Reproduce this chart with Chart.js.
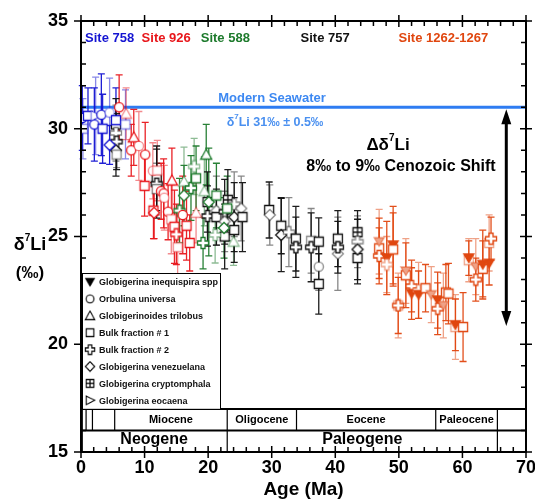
<!DOCTYPE html>
<html>
<head>
<meta charset="utf-8">
<script src="https://cdn.jsdelivr.net/npm/chart.js@4.4.1/dist/chart.umd.min.js"></script>
<style>
  html, body { margin: 0; padding: 0; background: #fff; }
  #wrap { width: 535px; height: 504px; }
</style>
</head>
<body>
<div id="wrap"><canvas id="chart" width="535" height="504"></canvas></div>
<script>
// Li isotopes in forams through the Cenozoic
// each row: [age Ma, d7Li permil, error, symbol]
const site758 = [
  [0.2, 30.5, 1.5, 'circ'], [0.3, 30.0, 1.4, 'sq'], [1.1, 30.6, 1.3, 'sq'],
  [2.1, 30.2, 1.7, 'circ'], [2.3, 30.6, 1.8, 'triR'], [3.2, 30.65, 1.9, 'circ'],
  [3.4, 30.0, 1.6, 'sq'], [4.5, 30.75, 1.6, 'circ'], [4.5, 29.25, 0.9, 'dia'],
  [5.5, 30.4, 1.5, 'sq'], [7.0, 30.2, 1.6, 'sq']
];
const site926 = [
  [6.0, 31.0, 1.5, 'circ'], [7.1, 30.7, 1.2, 'tri'], [7.9, 29.0, 1.2, 'circ'],
  [8.3, 29.6, 1.3, 'tri'], [9.1, 29.2, 1.6, 'circ'], [10.1, 28.8, 1.5, 'circ'],
  [10.0, 27.35, 1.4, 'sq'], [11.3, 28.05, 1.3, 'circ'], [11.4, 26.2, 1.3, 'sq'],
  [11.5, 26.1, 1.2, 'dia'], [12.0, 28.06, 1.4, 'sq'], [12.6, 27.1, 1.3, 'circ'],
  [13.0, 27.0, 1.6, 'circ'], [13.1, 26.8, 1.5, 'circ'], [13.7, 26.15, 1.3, 'circ'],
  [14.3, 27.6, 1.5, 'tri'], [14.2, 25.8, 1.6, 'sq'], [14.7, 25.45, 1.7, 'sq'],
  [15.0, 25.1, 1.4, 'plus'], [15.2, 24.5, 1.5, 'sq'], [16.6, 25.5, 1.6, 'sq'],
  [17.1, 24.7, 1.3, 'sq'], [18.1, 26.1, 1.4, 'tri'], [16.0, 26.0, 1.8, 'circ']
];
const site588 = [
  [15.5, 26.2, 1.5, 'plus'], [16.2, 27.55, 1.6, 'tri'], [16.2, 26.9, 1.4, 'dia'],
  [17.3, 27.25, 1.5, 'plus'], [17.8, 28.25, 1.3, 'plus'], [18.1, 27.7, 1.5, 'sq'],
  [19.2, 24.7, 1.2, 'plus'], [19.4, 27.1, 1.6, 'tri'], [19.7, 28.8, 1.4, 'tri'],
  [20.1, 26.6, 2.5, 'dia'], [21.1, 25.07, 1.3, 'plus'], [21.3, 26.9, 1.5, 'sq'],
  [22.5, 25.4, 1.4, 'dia'], [24.0, 24.76, 1.1, 'tri'], [23.0, 26.3, 1.5, 'sq']
];
const site757 = [
  [5.5, 30.2, 1.2, 'sq'], [5.5, 29.8, 1.3, 'plus'], [5.6, 29.4, 1.3, 'plus'],
  [5.5, 29.0, 1.2, 'dia'], [5.6, 28.8, 0.6, 'sq'], [11.9, 27.7, 1.5, 'sq'],
  [11.9, 27.45, 1.6, 'plus'], [11.9, 27.2, 1.2, 'sq'], [19.9, 26.6, 1.4, 'sq'],
  [19.9, 25.95, 1.4, 'plus'], [21.3, 26.2, 1.6, 'dia'], [21.3, 25.9, 1.3, 'sq'],
  [22.6, 26.15, 1.5, 'plus'], [22.6, 25.7, 1.4, 'dia'], [22.6, 25.0, 1.5, 'sq'],
  [23.1, 26.7, 1.4, 'sqx'], [24.1, 26.5, 1.5, 'plus'], [24.1, 25.9, 1.6, 'dia'],
  [24.1, 25.3, 1.5, 'sq'], [25.2, 26.3, 1.5, 'dia'], [25.4, 25.9, 1.6, 'sq'],
  [29.6, 26.23, 1.3, 'sq'], [29.7, 26.0, 1.4, 'dia'], [31.5, 25.5, 1.3, 'sq'],
  [31.5, 25.07, 1.7, 'dia'], [32.7, 25.2, 1.6, 'plus'], [33.8, 24.9, 1.5, 'sq'],
  [33.8, 24.5, 1.4, 'plus'], [36.2, 24.8, 1.5, 'sq'], [36.2, 24.5, 1.6, 'plus'],
  [37.4, 24.76, 1.1, 'sq'], [37.4, 23.6, 1.1, 'circ'], [37.4, 22.8, 1.4, 'sq'],
  [40.4, 24.9, 1.3, 'sq'], [40.4, 24.2, 1.7, 'dia'], [40.4, 24.5, 1.2, 'plus'],
  [43.5, 25.2, 1.0, 'sqx'], [43.5, 24.76, 1.2, 'plus'], [43.5, 24.0, 1.2, 'sq'],
  [43.5, 24.4, 1.4, 'dia']
];
const site1262 = [
  [46.9, 24.45, 1.4, 'sq'], [46.9, 24.76, 1.5, 'inv'], [46.9, 24.1, 1.3, 'plus'],
  [48.1, 24.0, 1.7, 'inv'], [48.1, 23.7, 1.3, 'plus'], [49.1, 24.6, 1.8, 'inv'],
  [49.1, 24.4, 1.7, 'sq'], [49.9, 21.8, 1.5, 'sq'], [49.9, 21.8, 1.3, 'plus'],
  [51.1, 23.2, 1.5, 'sq'], [51.1, 23.4, 1.5, 'inv'], [52.0, 22.7, 1.2, 'plus'],
  [52.0, 22.35, 1.2, 'inv'], [53.1, 22.5, 1.3, 'plus'], [53.1, 22.3, 1.1, 'inv'],
  [54.2, 22.6, 1.1, 'sq'], [55.1, 22.3, 1.3, 'inv'], [56.1, 22.05, 1.3, 'inv'],
  [56.1, 21.65, 1.2, 'plus'], [57.0, 21.8, 1.5, 'inv'], [57.4, 22.4, 1.3, 'sq'],
  [57.8, 22.35, 1.4, 'sq'], [58.9, 20.8, 1.5, 'sq'], [58.9, 20.9, 1.2, 'inv'],
  [60.1, 20.8, 1.6, 'sq'], [61.0, 23.9, 1.0, 'sq'], [61.0, 24.0, 0.8, 'inv'],
  [62.1, 23.0, 1.0, 'plus'], [62.1, 23.6, 1.3, 'inv'], [63.2, 23.5, 1.3, 'sq'],
  [63.2, 23.7, 1.6, 'inv'], [64.2, 24.7, 1.3, 'sq'], [64.5, 24.9, 1.0, 'plus'],
  [64.2, 23.75, 1.0, 'inv']
];

const siteNames = ['Site 758', 'Site 926', 'Site 588', 'Site 757', 'Site 1262-1267'];
const siteLabelAges = [4.5, 13.4, 22.7, 38.4, 57.0];
const seawaterLi = 31;

const legendNames = ['Globigerina inequispira spp', 'Orbulina universa', 'Globigerinoides trilobus',
  'Bulk fraction # 1', 'Bulk fraction # 2', 'Globigerina venezuelana',
  'Globigerina cryptomphala', 'Globigerina eocaena'];
const legendSyms = ['inv', 'circ', 'tri', 'sq', 'plus', 'dia', 'sqx', 'triR'];

const epochBounds = [0.2, 0.8, 1.8, 5.3, 23.0, 33.9, 55.8, 65.5];
const epochNames = ['Miocene', 'Oligocene', 'Eocene', 'Paleocene'];
const epochSpans = [[5.3, 23.0], [23.0, 33.9], [33.9, 55.8], [55.8, 65.5]];
const periodBounds = [0.2, 23.0, 65.5];
const periodNames = ['Neogene', 'Paleogene'];

const xTicks = [0, 10, 20, 30, 40, 50, 60, 70];
const yTicks = [15, 20, 25, 30, 35];

const FONT = "Arial, 'Liberation Sans', Helvetica, sans-serif";
const siteColors = ['#1414D2', '#E8161B', '#1D7A2C', '#111111', '#E0460F'];
const siteData = [site758, site926, site588, site757, site1262];

// --- marcadores propios (canvas) ---
const markerCache = {};
function makeMarker(kind, color, alpha) {
  const key = kind + '|' + color + '|' + alpha;
  if (markerCache[key]) return markerCache[key];
  const s = 14, m = 7;
  const c = document.createElement('canvas');
  c.width = s; c.height = s;
  const g = c.getContext('2d');
  g.lineWidth = 1.3;
  g.beginPath();
  switch (kind) {
    case 'circ': g.arc(m, m, 4.6, 0, Math.PI * 2); break;
    case 'sq': case 'sqx': g.rect(2.5, 2.5, 9, 9); break;
    case 'tri': g.moveTo(m, 1.5); g.lineTo(12.5, 11.5); g.lineTo(1.5, 11.5); g.closePath(); break;
    case 'inv': g.moveTo(2, 3); g.lineTo(12, 3); g.lineTo(m, 11.5); g.closePath(); break;
    case 'triR': g.moveTo(2.5, 2); g.lineTo(12.5, m); g.lineTo(2.5, 12); g.closePath(); break;
    case 'dia': g.moveTo(m, 1.5); g.lineTo(12.5, m); g.lineTo(m, 12.5); g.lineTo(1.5, m); g.closePath(); break;
    case 'plus': {
      const a = 2, b = 5.5;
      g.moveTo(m - a, m - b); g.lineTo(m + a, m - b); g.lineTo(m + a, m - a); g.lineTo(m + b, m - a);
      g.lineTo(m + b, m + a); g.lineTo(m + a, m + a); g.lineTo(m + a, m + b); g.lineTo(m - a, m + b);
      g.lineTo(m - a, m + a); g.lineTo(m - b, m + a); g.lineTo(m - b, m - a); g.lineTo(m - a, m - a);
      g.closePath();
      break;
    }
  }
  g.fillStyle = '#fff';
  g.fill();
  g.globalAlpha = alpha;
  g.strokeStyle = color;
  if (kind === 'inv') { g.fillStyle = color; g.fill(); }
  g.stroke();
  if (kind === 'sqx') {
    g.beginPath();
    g.moveTo(m, 2.5); g.lineTo(m, 11.5); g.moveTo(2.5, m); g.lineTo(11.5, m);
    g.stroke();
  }
  markerCache[key] = c;
  return c;
}

// puntos claros y oscuros alternados como en la figura
const pointAlpha = i => (i % 3 === 1 ? 0.5 : 1);

const datasets = siteData.map((rows, k) => ({
  label: siteNames[k],
  data: rows.map(r => ({ x: r[0], y: r[1] })),
  errs: rows.map(r => r[2]),
  pointStyle: ctx => makeMarker(rows[ctx.dataIndex][3], siteColors[k], pointAlpha(ctx.dataIndex)),
  pointRadius: 5,
  showLine: false
}));

function hexA(hex, a) {
  const n = parseInt(hex.slice(1), 16);
  return `rgba(${n >> 16},${(n >> 8) & 255},${n & 255},${a})`;
}

// texto con superindice
function supText(ctx, parts, cx, cy) {
  let w = 0;
  parts.forEach(p => { ctx.font = `bold ${p[1]}px ${FONT}`; w += ctx.measureText(p[0]).width; });
  let x = cx - w / 2;
  ctx.textAlign = 'left';
  ctx.textBaseline = 'middle';
  parts.forEach(p => {
    ctx.font = `bold ${p[1]}px ${FONT}`;
    ctx.fillText(p[0], x, cy + (p[2] || 0));
    x += ctx.measureText(p[0]).width;
  });
}

const decorPlugin = {
  id: 'decor',
  beforeDatasetsDraw(chart) {
    const { ctx, chartArea: a, scales: { x, y } } = chart;
    ctx.save();
    // linea de agua de mar moderna
    ctx.strokeStyle = '#2E7CF2';
    ctx.lineWidth = 3;
    ctx.beginPath();
    ctx.moveTo(a.left, y.getPixelForValue(seawaterLi));
    ctx.lineTo(a.right, y.getPixelForValue(seawaterLi));
    ctx.stroke();

    // barras de error
    ctx.lineWidth = 1.3;
    chart.data.datasets.forEach((ds, k) => {
      ds.data.forEach((p, i) => {
        const px = x.getPixelForValue(p.x);
        const top = y.getPixelForValue(p.y + ds.errs[i]);
        const bot = y.getPixelForValue(p.y - ds.errs[i]);
        ctx.strokeStyle = hexA(siteColors[k], pointAlpha(i) === 1 ? 0.95 : 0.5);
        ctx.beginPath();
        ctx.moveTo(px, top); ctx.lineTo(px, bot);
        ctx.moveTo(px - 3.5, top); ctx.lineTo(px + 3.5, top);
        ctx.moveTo(px - 3.5, bot); ctx.lineTo(px + 3.5, bot);
        ctx.stroke();
      });
    });
    ctx.restore();
  },
  afterDatasetsDraw(chart) {
    const { ctx, chartArea: a, scales: { x, y } } = chart;
    ctx.save();
    ctx.fillStyle = '#000';
    ctx.strokeStyle = '#000';

    // escala de tiempo geologico
    const y17 = y.getPixelForValue(17), y16 = y.getPixelForValue(16), y15 = y.getPixelForValue(15);
    ctx.fillStyle = '#fff';
    ctx.fillRect(a.left, y17, a.right - a.left, y15 - y17);
    ctx.lineWidth = 2;
    ctx.beginPath();
    ctx.moveTo(a.left, y17); ctx.lineTo(a.right, y17);
    ctx.moveTo(a.left, y16); ctx.lineTo(a.right, y16);
    ctx.stroke();
    ctx.lineWidth = 1.2;
    ctx.beginPath();
    epochBounds.forEach(b => { const px = x.getPixelForValue(b); ctx.moveTo(px, y17); ctx.lineTo(px, y16); });
    periodBounds.forEach(b => { const px = x.getPixelForValue(b); ctx.moveTo(px, y16); ctx.lineTo(px, y15); });
    ctx.stroke();
    ctx.fillStyle = '#000';
    ctx.textAlign = 'center';
    ctx.textBaseline = 'middle';
    ctx.font = `bold 11px ${FONT}`;
    epochNames.forEach((n, i) => {
      const cx = (x.getPixelForValue(epochSpans[i][0]) + x.getPixelForValue(epochSpans[i][1])) / 2;
      ctx.fillText(n, cx, (y17 + y16) / 2);
    });
    ctx.font = `bold 16px ${FONT}`;
    const pc = [[0, 23.0], [23.0, 65.5]];
    periodNames.forEach((n, i) => {
      const cx = (x.getPixelForValue(pc[i][0]) + x.getPixelForValue(pc[i][1])) / 2;
      ctx.fillText(n, cx, (y16 + y15) / 2 - 2);
    });

    // marco y marcas de los ejes
    ctx.lineWidth = 2;
    ctx.strokeRect(a.left, a.top, a.right - a.left, a.bottom - a.top);
    ctx.lineWidth = 1.5;
    ctx.beginPath();
    for (let v = 0; v <= 70; v += 2) {
      const px = x.getPixelForValue(v);
      const major = v % 10 === 0;
      if (major) {
        ctx.moveTo(px, a.bottom - 6); ctx.lineTo(px, a.bottom + 6);
        ctx.moveTo(px, a.top - 6); ctx.lineTo(px, a.top + 6);
      } else {
        ctx.moveTo(px, a.bottom - 5); ctx.lineTo(px, a.bottom);
        ctx.moveTo(px, a.top); ctx.lineTo(px, a.top + 5);
      }
    }
    for (let v = 15; v <= 35; v += 1) {
      const py = y.getPixelForValue(v);
      if (v % 5 === 0) {
        ctx.moveTo(a.left - 7, py); ctx.lineTo(a.left + 6, py);
        ctx.moveTo(a.right - 6, py); ctx.lineTo(a.right + 6, py);
      } else {
        ctx.moveTo(a.left, py); ctx.lineTo(a.left + 5, py);
        ctx.moveTo(a.right - 5, py); ctx.lineTo(a.right, py);
      }
    }
    ctx.stroke();

    // etiquetas de sitios
    ctx.font = `bold 13px ${FONT}`;
    ctx.textBaseline = 'middle';
    siteNames.forEach((n, k) => {
      ctx.fillStyle = siteColors[k];
      ctx.fillText(n, x.getPixelForValue(siteLabelAges[k]), 38);
    });

    // agua de mar
    const ySea = y.getPixelForValue(seawaterLi);
    ctx.fillStyle = '#3C88F2';
    ctx.font = `bold 13px ${FONT}`;
    ctx.fillText('Modern Seawater', 272, ySea - 9);
    ctx.fillStyle = '#4A90F0';
    supText(ctx, [['δ', 12.5], ['7', 8, -5], ['Li 31‰ ± 0.5‰', 12.5]], 275, ySea + 15);

    // flecha doble
    const ax = x.getPixelForValue(66.9);
    const aTop = y.getPixelForValue(30.9), aBot = y.getPixelForValue(20.85);
    ctx.fillStyle = '#000';
    ctx.strokeStyle = '#000';
    ctx.lineWidth = 3;
    ctx.beginPath();
    ctx.moveTo(ax, aTop + 10); ctx.lineTo(ax, aBot - 10);
    ctx.stroke();
    ctx.beginPath();
    ctx.moveTo(ax, aTop); ctx.lineTo(ax - 5, aTop + 15); ctx.lineTo(ax + 5, aTop + 15); ctx.closePath();
    ctx.moveTo(ax, aBot); ctx.lineTo(ax - 5, aBot - 15); ctx.lineTo(ax + 5, aBot - 15); ctx.closePath();
    ctx.fill();

    // texto del cambio cenozoico
    supText(ctx, [['Δδ', 17], ['7', 10, -7], ['Li', 17]], 388, 145);
    ctx.textAlign = 'center';
    ctx.font = `bold 16px ${FONT}`;
    ctx.fillText('8‰ to 9‰ Cenozoic Shift', 401, 167);

    // leyenda
    const lx = a.left + 1, ly = 273, lw = 138, lh = y17 - 273;
    ctx.fillStyle = '#fff';
    ctx.fillRect(lx, ly, lw, lh);
    ctx.strokeStyle = '#000';
    ctx.lineWidth = 1;
    ctx.strokeRect(lx + 0.5, ly + 0.5, lw, lh);
    ctx.save();
    ctx.beginPath();
    ctx.rect(lx, ly, lw, lh);
    ctx.clip();
    ctx.font = `bold 9px ${FONT}`;
    ctx.textAlign = 'left';
    ctx.textBaseline = 'middle';
    ctx.fillStyle = '#111';
    legendNames.forEach((n, i) => {
      const ry = 283 + i * 16.9;
      const mk = makeMarker(legendSyms[i], '#000', 1);
      ctx.drawImage(mk, lx + 2, ry - 7, 12, 12);
      ctx.fillText(n, lx + 17, ry);
    });
    ctx.restore();

    // titulos de ejes
    ctx.fillStyle = '#000';
    supText(ctx, [['δ', 18], ['7', 10, -7], ['Li', 18]], 30, 245);
    ctx.textAlign = 'center';
    ctx.font = `bold 17px ${FONT}`;
    ctx.fillText('(‰)', 30, 273);
    ctx.font = `bold 19px ${FONT}`;
    ctx.fillText('Age (Ma)', (a.left + a.right) / 2, 490);
    ctx.restore();
  }
};

new Chart(document.getElementById('chart'), {
  type: 'scatter',
  data: { datasets },
  options: {
    responsive: false,
    animation: false,
    devicePixelRatio: 1,
    layout: { padding: { top: 21, right: 9, left: 0, bottom: 0 } },
    plugins: { legend: { display: false }, tooltip: { enabled: false } },
    scales: {
      x: {
        type: 'linear', min: 0, max: 70,
        afterBuildTicks: s => { s.ticks = xTicks.map(v => ({ value: v })); },
        afterFit: s => { s.height = 52; s.paddingLeft = 0; s.paddingRight = 0; },
        grid: { display: false, drawTicks: false },
        border: { display: false },
        ticks: { color: '#000', font: { size: 18, weight: 'bold', family: FONT }, padding: 5, maxRotation: 0 }
      },
      y: {
        type: 'linear', min: 15, max: 35,
        afterBuildTicks: s => { s.ticks = yTicks.map(v => ({ value: v })); },
        afterFit: s => { s.width = 81; s.paddingTop = 0; s.paddingBottom = 0; },
        grid: { display: false, drawTicks: false },
        border: { display: false },
        ticks: { color: '#000', font: { size: 18, weight: 'bold', family: FONT }, padding: 13 }
      }
    }
  },
  plugins: [decorPlugin]
});
</script>
</body>
</html>
